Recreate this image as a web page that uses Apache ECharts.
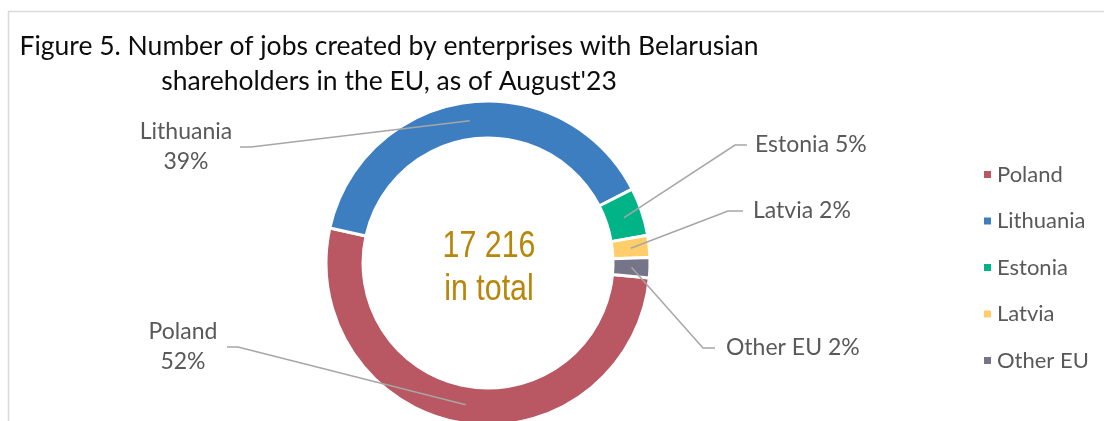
<!DOCTYPE html>
<html>
<head>
<meta charset="utf-8">
<script src="https://cdn.jsdelivr.net/npm/echarts@6/dist/echarts.min.js"></script>
<style>
  html, body { margin: 0; padding: 0; background: #fff; }
  #chart { width: 1104px; height: 421px; }
</style>
</head>
<body>
<div id="chart"></div>
<script>
var countries = ['Poland', 'Lithuania', 'Estonia', 'Latvia', 'Other EU'];
var jobs = [8952, 6714, 826, 379, 345];
var colors = ['#B95762', '#3D7EC0', '#00B488', '#FFCE6B', '#757489'];
var totalText = '17 216';

var FONT = 'Lato';
var CENTER = [488, 263];
var START = -5.3;
var MID_R = 143.5; // callouts start in the middle of the ring

// label anchor + elbow of each leader line (Excel-style straight callouts)
var spots = [
  { x: 183, y: 347, align: 'center', bend: [238, 347], end: [227, 347] },
  { x: 186, y: 147, align: 'center', bend: [251, 147], end: [240, 147] },
  { x: 755, y: 145, align: 'left', bend: [735, 145], end: [747, 145] },
  { x: 753, y: 211, align: 'left', bend: [728, 211], end: [743, 211] },
  { x: 726, y: 348, align: 'left', bend: [703, 348], end: [715, 348] }
];

// mid-ring point of each slice, from the data
var total = jobs.reduce(function (a, b) { return a + b; }, 0);
var anchors = [];
(function () {
  var cum = 0;
  jobs.forEach(function (v) {
    var a = (START - 360 * (cum + v / 2) / total) * Math.PI / 180;
    anchors.push([CENTER[0] + MID_R * Math.cos(a), CENTER[1] - MID_R * Math.sin(a)]);
    cum += v;
  });
})();

var chart = echarts.init(document.getElementById('chart'));

var ringData = countries.map(function (c, i) {
  return { name: c, value: jobs[i], itemStyle: { color: colors[i] } };
});
var labelData = countries.map(function (c, i) {
  return { name: c, value: jobs[i] };
});

var option = {
  animation: false,
  title: {
    text: 'Figure 5. Number of jobs created by enterprises with Belarusian\nshareholders in the EU, as of August\'23',
    left: 389,
    top: 29,
    padding: 0,
    textAlign: 'center',
    textStyle: { fontFamily: FONT, fontSize: 26.5, fontWeight: 'normal', color: '#0d0d0d', lineHeight: 35 }
  },
  legend: {
    orient: 'vertical',
    left: 977,
    top: 158.5,
    icon: 'rect',
    itemWidth: 9,
    itemHeight: 9,
    itemGap: 24.5,
    selectedMode: false,
    textStyle: { fontFamily: FONT, fontSize: 22, lineHeight: 22, color: '#595959' }
  },
  graphic: [
    {
      type: 'rect',
      silent: true,
      z: -10,
      shape: { x: 8.5, y: 11.5, width: 1200, height: 500 },
      style: { fill: 'none', stroke: '#D9D9D9', lineWidth: 1.5 }
    },
    {
      type: 'text',
      silent: true,
      x: CENTER[0] + 1,
      y: CENTER[1] + 5,
      scaleX: 0.82,
      style: {
        text: totalText + '\nin total',
        align: 'center',
        verticalAlign: 'middle',
        fontFamily: 'Liberation Sans',
        fontSize: 37,
        lineHeight: 43,
        fill: '#B8860B'
      }
    }
  ],
  series: [
    {
      type: 'pie',
      z: 2,
      center: CENTER,
      radius: [125, 162],
      startAngle: START,
      clockwise: true,
      silent: true,
      label: { show: false },
      labelLine: { show: false },
      itemStyle: { borderColor: '#fff', borderWidth: 3 },
      emphasis: { disabled: true },
      data: ringData
    },
    {
      type: 'pie',
      z: 6,
      center: CENTER,
      radius: [0, MID_R],
      startAngle: START,
      clockwise: true,
      silent: true,
      avoidLabelOverlap: false,
      itemStyle: { color: 'rgba(0,0,0,0)', borderWidth: 0 },
      emphasis: { disabled: true },
      label: {
        show: true,
        position: 'outside',
        fontFamily: FONT,
        fontSize: 23,
        lineHeight: 30,
        color: '#595959',
        formatter: function (p) {
          var pct = Math.round(p.percent) + '%';
          return p.dataIndex < 2 ? p.name + '\n' + pct : p.name + ' ' + pct;
        }
      },
      labelLine: { show: true, lineStyle: { color: '#A6A6A6', width: 1.5 } },
      labelLayout: function (params) {
        var i = params.dataIndex;
        var s = spots[i];
        return {
          x: s.x,
          y: s.y,
          align: s.align,
          verticalAlign: 'middle',
          labelLinePoints: [anchors[i], s.bend, s.end]
        };
      },
      data: labelData
    }
  ]
};

chart.setOption(option);
</script>
</body>
</html>
